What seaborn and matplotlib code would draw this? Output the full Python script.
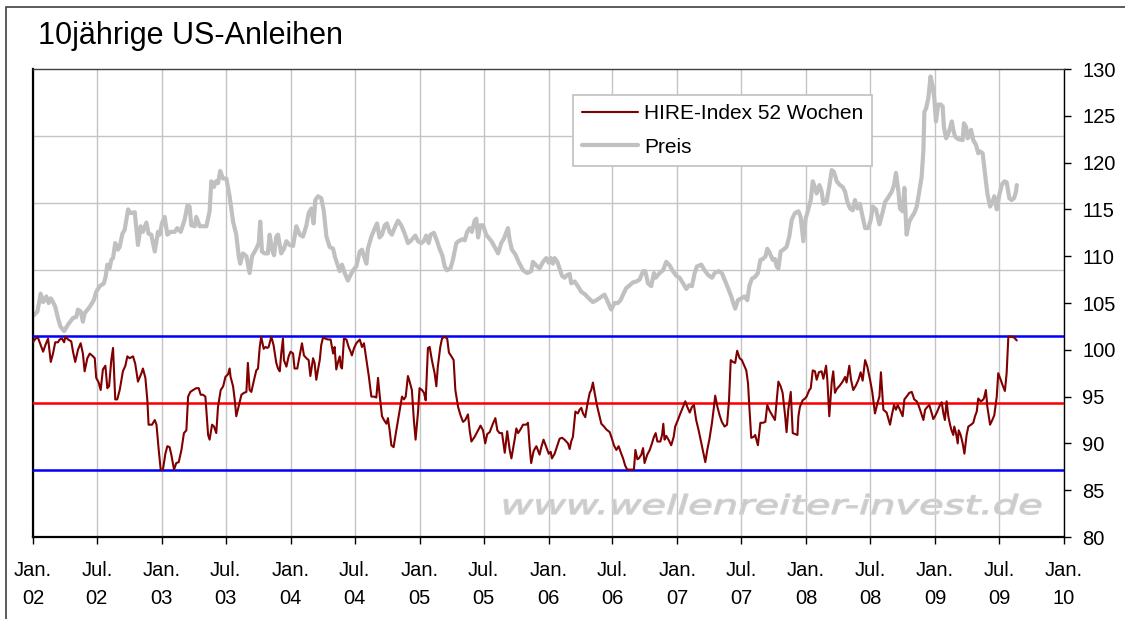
import numpy as np
import pandas as pd
import seaborn as sns
from matplotlib import pyplot as plt
from matplotlib.font_manager import FontProperties
from matplotlib.patches import PathPatch, Rectangle
from matplotlib.textpath import TextPath
from matplotlib.transforms import Affine2D, IdentityTransform

# weekly data, x given as weeks since 2002-01-01
start = pd.Timestamp("2002-01-01")

preis_week = [
    0.4, 1.8, 3.1, 4.1, 5.4, 6.3, 7.2, 8.1, 9.0, 10.1, 11.1, 12.6, 14.2, 16.2, 17.5, 18.2,
    19.3, 20.2, 20.9, 23.0, 24.6, 25.6, 27.0, 28.7, 29.4, 30.1, 31.0, 31.7, 32.4, 33.3, 34.4,
    35.1, 36.2, 37.1, 38.5, 39.5, 41.2, 42.5, 43.6, 44.5, 45.9, 46.8, 47.9, 49.3, 50.6, 51.3,
    52.2, 53.3, 54.4, 55.7, 57.4, 58.4, 59.8, 61.4, 62.5, 63.4, 64.1, 65.5, 66.1, 67.5, 70.2,
    71.5, 72.2, 73.3, 74.0, 74.9, 75.8, 76.9, 78.3, 79.6, 81.0, 82.3, 83.3, 83.9, 85.0, 86.4,
    87.7, 88.7, 90.4, 91.4, 92.0, 92.7, 93.8, 95.1, 95.8, 96.8, 97.6, 98.5,
    99.2, 100.5, 101.6, 102.6, 103.9, 105.3, 106.6, 108.0, 109.3, 110.7, 111.6, 112.7, 113.6,
    114.3, 115.4, 116.7, 117.7, 118.8, 120.1, 121.5, 122.4, 124.2, 125.1, 126.2, 127.5, 128.6,
    129.6, 130.9, 132.3, 133.2, 134.0, 135.0, 135.6, 137.0, 138.1, 139.3, 140.3, 141.3, 142.4,
    143.3, 144.4, 145.3, 146.7, 147.8, 149.1, 150.5, 151.8, 152.8, 153.8, 154.8, 155.9, 157.2,
    158.2, 159.2, 160.2, 161.0, 162.3, 163.6, 164.6, 165.7, 166.7, 167.6, 169.0, 170.0, 171.4,
    172.3, 173.7, 174.8, 175.8, 176.8, 177.7, 178.8, 179.5, 180.2, 181.1, 182.2, 183.5, 185.6,
    186.9, 188.3, 189.6, 190.7, 192.3, 193.0, 193.9, 195.3, 196.6, 198.4, 200.1,
    201.7, 202.4, 203.8, 205.1, 206.5, 207.8, 208.8, 209.6, 210.5, 211.2, 212.3, 213.2, 214.2,
    215.2, 216.3, 217.3, 217.9, 219.3, 220.6, 222.0, 223.6, 225.4, 226.7, 228.1, 229.8, 231.4,
    232.4, 233.2, 234.1, 235.5, 236.8, 237.9, 238.9, 240.2, 241.6, 242.9, 244.3, 245.6, 247.0,
    247.9, 249.0, 250.3, 251.4, 252.1, 253.7, 255.1, 256.4, 257.8, 259.1, 260.5, 261.8, 263.2,
    264.5, 265.6, 266.8, 267.9, 268.8, 270.6, 271.9, 273.3, 274.9, 276.0, 277.6, 278.9, 280.0,
    281.4, 282.7, 283.4, 284.3, 285.4, 286.8, 288.1, 289.2, 290.1, 291.1, 292.4, 293.5, 294.5,
    295.5, 296.6, 297.3, 298.2,
    299.5, 300.4, 301.1, 301.8, 302.7, 303.8, 305.1, 306.2, 307.2, 308.5, 309.9, 310.8, 311.9,
    312.8, 313.9, 314.9, 315.7, 316.6, 317.3, 318.4, 319.3, 320.0, 321.3, 322.4, 323.4, 324.3,
    325.4, 326.7, 327.8, 328.8, 329.7, 330.8, 331.9, 332.8, 333.8, 334.8, 335.9, 336.9, 338.2,
    339.2, 340.0, 341.3, 342.7, 344.0, 345.0, 346.3, 347.7, 348.6, 349.4, 350.4, 351.0, 352.1,
    352.8, 353.7, 354.8, 355.8, 356.8, 357.8, 358.7, 359.8, 360.5, 360.9, 361.6, 362.5, 363.4,
    364.3, 364.9, 365.6, 366.5, 367.5, 368.3, 368.8, 369.7, 370.6, 371.3, 372.0, 372.6, 373.3,
    374.6, 376.4, 376.9, 377.8, 378.4, 379.1, 379.8, 380.7, 381.8, 382.7, 383.4, 384.5, 385.4,
    386.4, 387.5, 388.5, 389.2, 390.2, 391.2, 392.2, 393.3, 394.2, 395.3, 396.2, 397.2, 398.0,
    398.3,
]
preis_value = [
    103.7, 104.1, 106.0, 105.1, 105.7, 105.0, 105.5, 105.1, 104.6, 103.4, 102.5, 102.0, 102.7,
    103.4, 103.5, 104.3, 104.1, 103.0, 103.9, 104.6, 105.3, 106.2, 106.8, 107.1, 107.8, 109.1,
    108.7, 109.6, 109.8, 111.4, 110.7, 111.0, 112.4, 112.8, 115.0, 114.6, 114.7, 111.2, 113.2,
    112.6, 113.6, 112.4, 112.3, 110.5, 112.6, 112.3, 113.5, 114.2, 112.3, 112.6, 112.6, 113.0,
    112.6, 113.9, 115.4, 115.3, 113.3, 113.2, 114.2, 113.2, 113.2, 114.8, 118.0, 117.4, 118.0,
    117.8, 119.1, 118.3, 118.3, 116.4, 113.7, 112.3, 110.0, 109.2, 110.3, 110.0, 108.2, 110.0,
    110.8, 111.4, 113.7, 110.5, 110.3, 110.3, 112.3, 110.7, 110.1, 112.1,
    112.3, 110.3, 110.8, 111.6, 111.2, 111.1, 113.2, 112.3, 112.1, 113.3, 114.6, 115.1, 113.5,
    116.0, 116.4, 116.2, 114.9, 112.1, 111.0, 110.8, 109.8, 108.4, 109.1, 108.2, 107.4, 108.0,
    108.5, 108.9, 110.5, 110.7, 110.0, 109.2, 110.8, 112.1, 112.8, 113.5, 112.0, 112.3, 113.3,
    113.5, 112.6, 112.3, 113.2, 113.8, 113.3, 112.4, 111.4, 111.6, 111.9, 112.2, 111.6, 111.4,
    111.6, 112.2, 111.4, 112.3, 112.5, 111.6, 110.8, 110.1, 108.9, 108.5, 108.7, 109.6, 111.4,
    111.6, 111.8, 111.7, 112.6, 113.0, 112.6, 113.8, 114.0, 112.0, 113.3, 113.3, 112.3, 111.6,
    111.0, 110.3, 111.4, 111.9, 113.0, 111.7, 110.7, 110.2, 109.4, 108.5, 108.2,
    108.4, 109.4, 109.0, 108.7, 109.4, 109.8, 109.3, 109.8, 109.2, 109.8, 109.4, 108.7, 107.9,
    107.7, 108.0, 108.1, 107.1, 107.3, 106.8, 106.2, 105.9, 105.4, 105.1, 105.3, 105.6, 105.9,
    105.3, 104.8, 104.3, 105.0, 105.0, 105.3, 105.9, 106.6, 106.9, 107.2, 107.3, 107.5, 108.4,
    108.4, 107.1, 106.8, 108.2, 107.7, 108.2, 108.5, 109.4, 109.0, 108.4, 107.9, 107.7, 107.1,
    106.5, 106.9, 106.8, 108.2, 108.9, 109.1, 108.5, 108.0, 107.7, 108.2, 108.4, 108.2, 107.5,
    106.6, 105.7, 105.1, 104.4, 105.3, 105.5, 105.7, 105.3, 106.9, 107.6, 107.8, 108.2, 109.6,
    109.7, 110.0, 110.8, 110.4,
    109.6, 109.7, 108.9, 108.7, 110.5, 110.7, 111.0, 112.1, 113.9, 114.6, 114.8, 114.2, 111.6,
    114.0, 115.0, 116.0, 118.0, 117.3, 116.7, 117.6, 116.9, 115.6, 115.8, 117.5, 119.2, 119.0,
    118.0, 117.6, 117.4, 116.9, 115.8, 115.1, 114.9, 116.0, 115.1, 115.6, 114.2, 113.0, 113.0,
    113.9, 115.3, 115.0, 113.4, 114.7, 115.8, 116.3, 116.9, 117.6, 118.9, 116.9, 115.1, 114.8,
    117.3, 112.3, 113.7, 114.2, 114.6, 115.3, 116.7, 118.5, 121.3, 125.4, 125.8, 126.9, 129.2,
    128.1, 126.9, 124.4, 126.2, 126.2, 126.0, 123.8, 122.6, 123.1, 123.7, 124.4, 123.5, 122.8,
    122.5, 122.4, 124.2, 123.8, 122.6, 122.8, 123.5, 122.4, 121.9, 121.0, 121.2, 121.0, 118.9,
    116.7, 115.3, 115.8, 116.4, 115.0, 116.5, 117.6, 118.0, 117.9, 116.2, 116.0, 116.2, 116.9,
    117.6,
]

hire_week = [
    0.0, 1.0, 2.0, 3.1, 4.1, 5.0, 6.1, 7.2, 8.1, 9.0, 10.1, 10.8, 11.7, 12.6, 13.1, 14.2, 15.5,
    16.2, 17.1, 18.2, 19.3, 20.2, 20.9, 22.0, 23.0, 24.3, 25.0, 25.6, 26.6, 27.4, 28.3, 29.3,
    30.1, 30.8, 31.7, 32.4, 33.3, 34.1, 35.1, 36.4, 37.4, 38.2, 39.1, 40.5, 41.4, 42.5, 43.9,
    44.5, 45.5, 46.3, 46.8, 48.2, 49.3, 50.0, 50.9, 51.7, 52.6, 53.6, 54.4, 55.3, 56.0, 57.1,
    58.0, 59.0, 60.1, 61.1, 62.1, 62.8, 63.7, 64.8, 66.1, 67.1, 67.9, 68.8, 69.8, 70.9, 71.5,
    72.5, 73.3, 74.2, 74.9, 76.0, 77.0, 77.9, 79.0, 79.6, 80.0, 81.0, 81.7, 82.3, 83.3, 84.4,
    85.4, 86.4, 87.0, 87.7, 88.4, 89.5, 90.4, 91.1, 91.8, 92.4, 93.4, 94.1, 94.9, 95.4, 96.5,
    97.4, 98.5,
    99.2, 99.9, 100.5, 101.2, 101.6, 102.6, 103.5, 104.3, 105.3, 105.9, 107.0, 108.0, 108.9,
    109.7, 110.7, 111.6, 112.3, 113.4, 114.0, 114.7, 115.4, 116.1, 116.7, 117.4, 118.4, 119.4,
    120.5, 121.5, 122.1, 122.8, 123.5, 124.2, 124.6, 125.1, 125.9, 126.9, 127.8, 128.6, 129.1,
    130.0, 130.9, 132.3, 133.2, 134.0, 135.0, 135.9, 137.0, 138.1, 139.0, 139.7, 140.3, 141.3,
    142.1, 143.1, 143.7, 144.4, 145.1, 146.0, 147.1, 148.4, 149.4, 150.2, 150.9, 151.8, 152.5,
    153.4, 154.2, 154.9, 155.9, 156.5, 157.5, 158.3, 159.0, 159.9, 160.6, 161.5, 162.6, 163.3,
    163.9, 164.9, 165.6, 166.7, 167.7, 168.4, 169.4, 170.3, 171.0, 172.1, 173.1, 174.1, 175.0,
    176.1, 176.8, 177.5, 178.8, 180.2, 181.2, 182.2, 183.1, 183.9, 184.9, 186.2, 187.2, 188.0,
    188.9, 189.9, 191.0, 192.0, 193.0, 193.7, 195.0, 195.7, 196.4, 197.4, 198.4, 199.7,
    200.4, 201.1, 201.7, 202.7, 203.8, 204.4, 205.1, 205.8, 206.7, 207.8, 208.8, 209.6, 210.1,
    211.2, 212.3, 213.2, 214.2, 215.2, 216.6, 217.3, 217.9, 218.6, 219.6, 220.6, 221.3, 222.0,
    222.7, 223.6, 224.4, 225.4, 226.0, 226.7, 227.4, 228.3, 229.1, 230.1, 231.2, 232.1, 233.5,
    234.4, 235.2, 236.2, 237.1, 237.9, 238.9, 239.8, 240.6, 242.2, 243.3, 243.9, 244.7, 245.3,
    246.3, 247.0, 247.6, 248.7, 249.7, 250.6, 251.4, 252.1, 252.8, 254.0, 254.7, 255.2, 255.7,
    256.4, 257.3, 258.4, 259.4, 260.0, 261.1, 262.1, 263.2, 264.1, 264.9, 265.9, 266.8, 267.6,
    268.5, 269.5, 270.6, 271.5, 272.2, 273.0, 273.9, 274.9, 275.7, 276.2, 277.1, 278.0, 278.9,
    280.0, 281.0, 281.8, 282.5, 283.4, 284.3, 285.1, 286.1, 287.0, 287.8, 288.8, 289.5, 290.1,
    290.8, 291.8, 292.4, 293.5, 294.5, 295.5, 296.5, 297.3, 298.2,
    299.5, 300.4, 301.1, 301.8, 302.7, 303.5, 304.5, 305.1, 305.8, 306.8, 307.6, 308.5, 309.5,
    309.9, 310.5, 311.6, 312.6, 313.2, 314.3, 314.9, 315.7, 316.6, 317.3, 318.2, 319.3, 320.0,
    321.1, 321.6, 322.4, 323.4, 324.0, 324.7, 325.4, 326.7, 327.8, 328.8, 329.4, 330.5, 331.2,
    332.1, 333.2, 334.2, 335.1, 335.9, 336.9, 337.8, 338.9, 339.8, 340.9, 341.9, 342.7, 343.3,
    344.3, 345.6, 347.0, 347.7, 348.6, 349.4, 350.1, 351.0, 352.1, 352.8, 353.7, 354.8, 355.8,
    356.8, 357.8, 358.5, 359.4, 360.5, 361.2, 362.1, 362.9, 363.9, 364.5, 365.2, 366.1, 367.2,
    367.9, 368.6, 369.2, 369.9, 370.6, 371.3, 371.9, 372.6, 373.0, 373.7, 374.4, 374.8, 375.6,
    376.4, 377.1, 378.0, 378.7, 379.8, 380.7, 381.4, 382.1, 382.7, 383.7, 384.4, 385.0, 385.8,
    386.4, 387.5, 388.4, 389.2, 390.2, 390.8, 391.8, 392.6, 393.5, 394.2, 394.9, 396.2, 397.3,
    398.3,
]
hire_value = [
    100.8, 101.2, 101.3, 100.5, 99.8, 100.5, 101.2, 98.7, 99.6, 100.8, 100.8, 101.1, 101.2,
    100.8, 101.4, 101.1, 100.9, 99.8, 98.7, 100.0, 100.7, 99.6, 97.7, 99.1, 99.6, 99.3, 99.1,
    97.0, 96.5, 95.7, 97.9, 98.3, 95.9, 96.1, 98.9, 100.2, 94.7, 94.7, 95.7, 97.7, 98.3, 99.3,
    99.1, 99.3, 98.5, 96.6, 97.5, 98.0, 97.0, 94.6, 92.0, 92.0, 92.5, 92.0, 89.3, 87.2, 87.2,
    88.9, 89.7, 89.6, 88.8, 87.2, 87.9, 88.0, 89.3, 91.1, 91.4, 95.0, 95.5, 95.7, 95.9, 95.9,
    95.2, 95.2, 95.0, 90.9, 90.4, 92.0, 91.8, 91.1, 93.9, 95.7, 96.1, 97.1, 97.4, 98.0, 97.1,
    96.1, 94.6, 92.9, 94.0, 95.2, 95.4, 95.5, 98.6, 95.7, 95.5, 96.8, 97.8, 98.0, 100.3, 101.4,
    100.1, 100.3, 100.2, 100.3, 101.4, 100.5, 98.6,
    98.0, 97.7, 99.6, 101.2, 98.9, 98.2, 99.3, 99.8, 99.6, 98.0, 98.0, 99.4, 100.7, 99.4, 99.1,
    98.9, 97.2, 99.1, 98.6, 96.8, 97.9, 98.9, 100.5, 101.3, 101.2, 101.1, 101.1, 99.6, 100.3,
    97.9, 98.7, 99.3, 98.2, 98.0, 101.2, 101.1, 100.3, 99.8, 99.4, 100.2, 100.7, 101.1, 100.3,
    100.7, 98.9, 97.3, 95.0, 95.0, 94.9, 97.0, 95.3, 92.9, 92.5, 92.1, 92.7, 91.4, 89.8, 89.6,
    91.4, 93.4, 95.0, 94.7, 95.0, 97.2, 96.6, 95.7, 92.5, 90.4, 93.4, 95.9, 95.7, 95.4, 94.6,
    100.2, 100.3, 98.9, 97.5, 96.1, 98.2, 100.3, 101.2, 101.4, 101.2, 99.7, 99.3, 98.9, 95.7,
    93.9, 93.0, 92.3, 92.5, 93.1, 91.4, 90.2, 90.7, 91.4, 91.9, 91.4, 90.0, 91.0, 91.2, 92.1,
    92.7, 91.4, 91.1, 91.1, 89.0, 91.3, 89.3, 88.4, 90.4, 91.6, 91.1, 91.5, 92.0, 92.0,
    92.2, 89.6, 87.9, 89.2, 89.7, 89.3, 88.8, 89.6, 90.4, 89.6, 88.9, 89.1, 88.4, 88.9, 89.8,
    90.5, 90.6, 90.4, 90.0, 89.4, 90.2, 90.7, 93.4, 93.2, 93.6, 93.8, 93.2, 92.8, 94.1, 95.4,
    95.7, 96.5, 95.4, 94.1, 93.2, 92.1, 91.8, 91.5, 91.2, 90.5, 89.8, 89.3, 89.7, 89.1, 88.4,
    87.6, 87.2, 87.2, 87.2, 89.3, 88.3, 88.4, 88.8, 89.5, 87.9, 88.8, 89.3, 90.0, 90.7, 91.1,
    90.2, 90.2, 90.9, 92.1, 90.4, 90.8, 90.4, 89.8, 90.7, 91.8, 92.5, 93.2, 93.9, 94.5, 93.9,
    93.3, 93.9, 94.1, 92.5, 91.4, 90.0, 88.9, 88.0, 89.3, 90.5, 92.2, 93.9, 95.1, 93.9, 93.0,
    92.3, 91.8, 92.0, 94.6, 98.9, 98.7, 98.6, 99.9, 99.1, 98.9, 98.4, 97.8, 96.4, 93.6, 90.6,
    90.7, 90.9, 89.8, 92.2, 92.2, 92.3, 94.1, 93.5,
    92.9, 92.5, 94.6, 96.6, 96.1, 95.4, 93.0, 91.2, 93.6, 95.5, 91.1, 91.0, 90.9, 92.9, 93.9,
    94.6, 94.8, 95.0, 95.7, 95.9, 97.8, 97.7, 96.8, 97.6, 97.7, 96.9, 98.3, 96.8, 92.9, 96.6,
    97.7, 95.4, 95.8, 96.2, 96.6, 97.1, 96.5, 98.3, 96.8, 95.7, 96.2, 96.8, 97.6, 96.7, 98.9,
    98.2, 96.8, 95.5, 93.2, 94.3, 95.0, 97.6, 93.6, 93.3, 92.0, 93.0, 94.1, 93.6, 94.1, 93.6,
    92.9, 94.7, 95.0, 95.4, 95.5, 94.7, 94.5, 94.1, 93.4, 92.5, 93.6, 93.9, 94.1, 93.2, 92.6,
    92.9, 93.4, 94.1, 94.4, 93.2, 92.5, 94.5, 92.9, 92.0, 91.4, 90.9, 91.8, 91.1, 90.0, 91.4,
    90.9, 90.0, 88.9, 90.9, 91.8, 92.0, 92.2, 92.9, 93.4, 94.8, 94.5, 94.6, 94.8, 95.7, 93.9,
    92.0, 92.5, 93.0, 95.0, 97.5, 96.8, 96.2, 95.6, 97.5, 101.4, 101.4, 101.3, 101.0,
]

# upper band, middle line and lower band of the HIRE index
hire_band = [101.43, 94.29, 87.14]

sns.set_theme(style="white")
plt.rcParams["font.family"] = ["Liberation Sans", "DejaVu Sans"]
plt.rcParams.update({"text.color": "black", "xtick.color": "black",
                     "ytick.color": "black", "axes.labelcolor": "black"})


def to_dates(weeks):
    return start + pd.to_timedelta(np.asarray(weeks) * 7, unit="D")


preis = pd.DataFrame({"Datum": to_dates(preis_week), "Wert": preis_value})
hire = pd.DataFrame({"Datum": to_dates(hire_week), "Wert": hire_value})

W, H = 1125, 619
fig = plt.figure(figsize=(W / 100, H / 100), dpi=100)
fig.patch.set_facecolor("white")
ax = fig.add_axes([33 / W, (H - 537) / H, 1031 / W, 468 / H])

y_min, y_max = 80, 130
ax.set_ylim(y_min, y_max)
ax.set_xlim(start, pd.Timestamp("2010-01-01"))

# gridlines of the hidden primary axis: 7 equal steps
for k in range(1, 7):
    ax.axhline(y_max - k * (y_max - y_min) / 7, color="#c4c4c4", lw=1, zorder=0.5)

sns.lineplot(data=preis, x="Datum", y="Wert", ax=ax, color="#c0c0c0", lw=3.0,
             estimator=None, label="Preis", zorder=2)
for val, col in zip(hire_band, ["#0000ff", "#ff0000", "#0000ff"]):
    ax.axhline(val, color=col, lw=1.8, zorder=3)
sns.lineplot(data=hire, x="Datum", y="Wert", ax=ax, color="#800000", lw=1.5,
             estimator=None, label="HIRE-Index 52 Wochen", zorder=4)

ticks = pd.date_range("2002-01-01", "2010-01-01", freq="6MS")
ax.set_xticks(ticks)
ax.set_xticklabels([("Jan." if t.month == 1 else "Jul.") + f"\n{t.year % 100:02d}" for t in ticks])
for lab in ax.get_xticklabels():
    lab.set_linespacing(1.55)
ax.grid(True, axis="x", color="#c4c4c4", lw=1)
ax.set_axisbelow(True)
ax.set_xlabel("")
ax.set_ylabel("")

ax.yaxis.tick_right()
ax.set_yticks(range(y_min, y_max + 1, 5))
ax.tick_params(axis="x", direction="out", length=5, width=1, color="black",
               labelsize=14.5, pad=12.5, bottom=True)
ax.tick_params(axis="y", direction="out", length=5, width=1, color="black",
               labelsize=14.5, pad=8, right=True, left=False)

for side in ["left", "bottom"]:
    ax.spines[side].set_color("black")
    ax.spines[side].set_linewidth(1.6)
ax.spines["right"].set_color("black")
ax.spines["right"].set_linewidth(1)
ax.spines["top"].set_color("#404040")
ax.spines["top"].set_linewidth(1)

handles, labels = ax.get_legend_handles_labels()
order = [labels.index("HIRE-Index 52 Wochen"), labels.index("Preis")]
leg = ax.legend([handles[i] for i in order], [labels[i] for i in order],
                loc="upper left", bbox_to_anchor=((573 - 33) / 1031, (537 - 95) / 468),
                borderaxespad=0, fontsize=15, frameon=True, fancybox=False,
                edgecolor="#c0c0c0", framealpha=1, handlelength=2.65,
                handletextpad=0.3, labelspacing=0.68, borderpad=0.45)
leg.get_frame().set_linewidth(1.2)

fig.text(38 / W, 1 - 44 / H, "10jährige US-Anleihen", fontsize=22, va="baseline")

# watermark, stretched italic text placed in pixel coordinates
wm = TextPath((0, 0), "www.wellenreiter-invest.de", size=1,
              prop=FontProperties(family="DejaVu Sans", style="italic"))
ext = wm.get_extents()
sx = 537 / ext.width
sy = 20 / 0.76
wm_tf = Affine2D().translate(-ext.x0, 0).scale(sx, sy).translate(504, H - 514)
fig.add_artist(PathPatch(wm, transform=wm_tf + IdentityTransform(), facecolor="#cacaca",
                         edgecolor="#d2d2d2", lw=1.0, zorder=0.6))

fig.add_artist(Rectangle((6 / W, -0.1), 1.2, 1.1 - 7 / H, transform=fig.transFigure,
                         fill=False, edgecolor="#404040", lw=1.2))

fig.savefig("out.png", dpi=100)
